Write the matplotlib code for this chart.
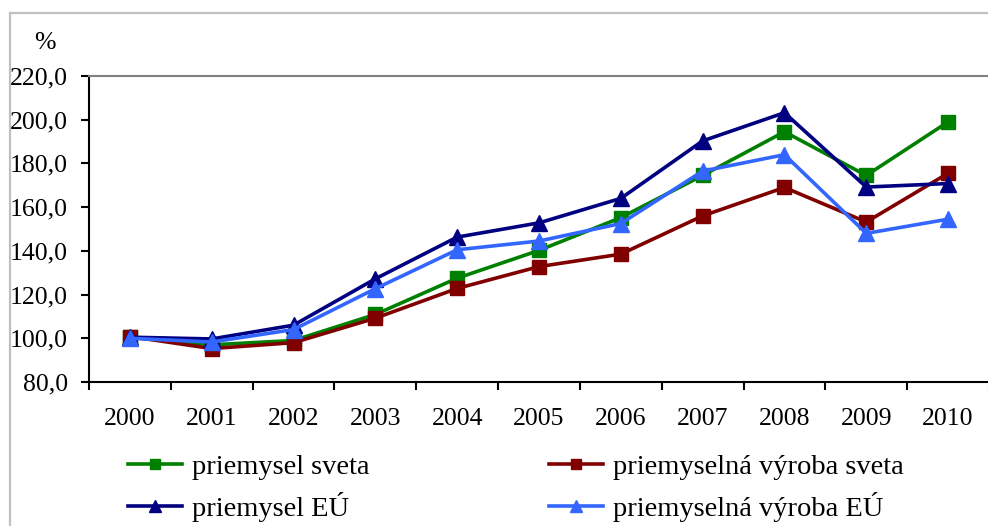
import matplotlib

matplotlib.use("Agg")
import matplotlib.pyplot as plt
from matplotlib.lines import Line2D

# ── Data ────────────────────────────────────────────────────────────────────
years = ["2000", "2001", "2002", "2003", "2004", "2005",
         "2006", "2007", "2008", "2009", "2010"]
priemysel_sveta = [100.5, 97.0, 99.0, 110.9, 127.5, 140.2, 155.2, 174.5, 194.5, 174.5, 199.0]
vyroba_sveta = [100.8, 95.3, 98.0, 109.2, 122.8, 132.8, 138.5, 156.0, 169.0, 153.2, 175.5]
priemysel_eu = [100.5, 99.7, 106.0, 127.2, 146.3, 152.8, 164.0, 190.3, 203.2, 169.2, 170.8]
vyroba_eu = [100.0, 98.3, 104.0, 122.7, 140.5, 144.5, 152.5, 176.5, 184.0, 148.0, 154.5]
y_ticks = [80, 100, 120, 140, 160, 180, 200, 220]

series = [
    ("priemysel sveta", priemysel_sveta, "#008000", "s"),
    ("priemyselná výroba sveta", vyroba_sveta, "#800000", "s"),
    ("priemysel EÚ", priemysel_eu, "#000080", "^"),
    ("priemyselná výroba EÚ", vyroba_eu, "#3366FF", "^"),
]

plt.rcParams["font.family"] = ["Liberation Serif", "DejaVu Serif"]

W, H = 988, 526
fig = plt.figure(figsize=(W / 100, H / 100), dpi=100)
fig.patch.set_facecolor("white")

# chart-area border (gray, top and left)
fig.add_artist(Line2D([10 / W, 10 / W], [0, 1 - 13 / H], color="#C0C0C0", lw=1.6))
fig.add_artist(Line2D([10 / W, 1], [1 - 13 / H, 1 - 13 / H], color="#C0C0C0", lw=1.6))

ax = fig.add_axes([89 / W, 1 - 382 / H, 900 / W, 306 / H])
x = list(range(len(years)))
handles = {}
for label, vals, color, marker in series:
    ax.plot(x, vals, color=color, lw=2.6, marker=marker,
            markersize=10 if marker == "s" else 11, label=label, zorder=3)
    handles[label] = Line2D([], [], color=color, lw=2.6, marker=marker,
                            markersize=7 if marker == "s" else 8, label=label)

ax.set_xlim(-0.5, len(years) - 0.5)
ax.set_ylim(80, 220)
ax.set_yticks(y_ticks)
ax.set_yticklabels([f"{v:.1f}".replace(".", ",") for v in y_ticks], fontsize=18.5)

# category boundaries get the tick marks, centres get the labels
ax.set_xticks([i - 0.5 for i in range(len(years) + 1)])
ax.set_xticklabels([])
ax.set_xticks(x, minor=True)
ax.set_xticklabels(years, minor=True, fontsize=18.5)
ax.tick_params(axis="x", which="major", length=6, width=1.5, direction="out")
ax.tick_params(axis="x", which="minor", length=0, pad=19)
ax.tick_params(axis="y", length=6, width=1.5, direction="out", pad=9)

ax.spines["right"].set_visible(False)
ax.spines["top"].set_color("#808080")
ax.spines["top"].set_linewidth(1.5)
ax.spines["left"].set_linewidth(1.5)
ax.spines["bottom"].set_linewidth(1.5)

fig.text(45 / W, 1 - 43 / H, "%", fontsize=18.5, ha="center", va="center")

# row-wise order: ncol=2 fills columns first
order = ["priemysel sveta", "priemysel EÚ",
         "priemyselná výroba sveta", "priemyselná výroba EÚ"]
fig.legend(handles=[handles[k] for k in order], loc="upper left",
           bbox_to_anchor=(128 / W, 1 - 454 / H),
           ncol=2, frameon=False, fontsize=20.5, handlelength=1.9,
           handletextpad=0.35, columnspacing=6.3, labelspacing=0.43,
           borderpad=0, borderaxespad=0)

fig.savefig("out.png", dpi=100, facecolor="white")
